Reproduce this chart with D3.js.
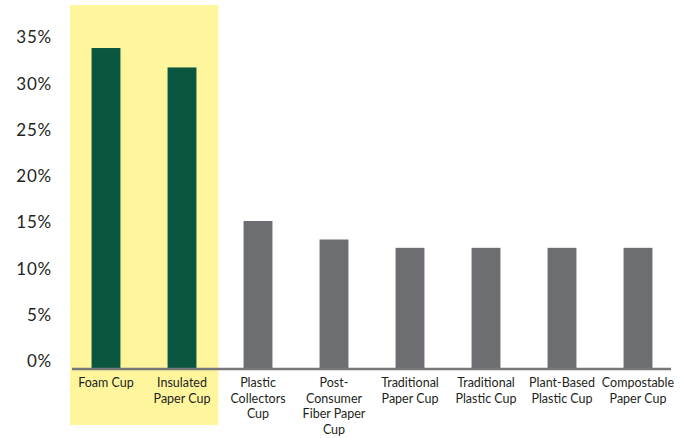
<!DOCTYPE html>
<html>
<head>
<meta charset="utf-8">
<script src="https://cdn.jsdelivr.net/npm/d3@7"></script>
<style>
  body { margin: 0; background: #fff; }
  svg { display: block; font-family: "Lato", "Open Sans", sans-serif; }
</style>
</head>
<body>
<svg id="chart" width="684" height="438"></svg>
<script>
// chart data
var categories = ["Foam Cup", "Insulated Paper Cup", "Plastic Collectors Cup", "Post-Consumer Fiber Paper Cup",
  "Traditional Paper Cup", "Traditional Plastic Cup", "Plant-Based Plastic Cup", "Compostable Paper Cup"];
var labelLines = [["Foam Cup"], ["Insulated", "Paper Cup"], ["Plastic", "Collectors", "Cup"],
  ["Post-", "Consumer", "Fiber Paper", "Cup"], ["Traditional", "Paper Cup"], ["Traditional", "Plastic Cup"],
  ["Plant-Based", "Plastic Cup"], ["Compostable", "Paper Cup"]];
var shares = [34.7, 32.6, 16.0, 14.0, 13.1, 13.1, 13.1, 13.1];
var highlighted = ["Foam Cup", "Insulated Paper Cup"];
var yTicks = [0, 5, 10, 15, 20, 25, 30, 35];

var svg = d3.select("#chart");

var x = d3.scaleBand().domain(categories).range([68, 676]).paddingInner(0.62).paddingOuter(0.31);
var y = d3.scaleLinear().domain([0, 35]).range([369, 45.25]);

// yellow highlight behind the first two bars
var hl = highlighted.map(function(d) { return x(d); });
svg.append("rect")
  .attr("x", 70)
  .attr("y", 5)
  .attr("width", d3.max(hl) + x.bandwidth() + 22 - 70)
  .attr("height", 420)
  .attr("fill", "#FFF59D");

// y labels
svg.append("g").selectAll("text")
  .data(yTicks)
  .enter().append("text")
    .attr("x", 52)
    .attr("y", function(d) { return y(d) - 2; })
    .attr("text-anchor", "end")
    .style("font-size", "17px")
    .style("letter-spacing", "0.8px")
    .style("fill", "#231F20")
    .text(function(d) { return d + "%"; });

// bars
svg.append("g").selectAll("rect")
  .data(shares)
  .enter().append("rect")
    .attr("x", function(d, i) { return x(categories[i]); })
    .attr("y", function(d) { return y(d); })
    .attr("width", x.bandwidth())
    .attr("height", function(d) { return y(0) - y(d); })
    .attr("fill", function(d, i) {
      return highlighted.indexOf(categories[i]) >= 0 ? "#0B5640" : "#6D6E71";
    });

// baseline
svg.append("line")
  .attr("x1", 72).attr("x2", 671)
  .attr("y1", y(0)).attr("y2", y(0))
  .style("stroke", "#77787B")
  .style("stroke-width", 2.5);

// category labels
var lab = svg.append("g").selectAll("text")
  .data(categories)
  .enter().append("text")
    .attr("text-anchor", "middle")
    .style("font-size", "12.5px")
    .style("fill", "#231F20");

lab.each(function(d, i) {
  var cx = x(d) + x.bandwidth() / 2;
  d3.select(this).selectAll("tspan")
    .data(labelLines[i])
    .enter().append("tspan")
      .attr("x", cx)
      .attr("y", function(t, j) { return 387 + j * 15.6; })
      .text(function(t) { return t; });
});
</script>
</body>
</html>
